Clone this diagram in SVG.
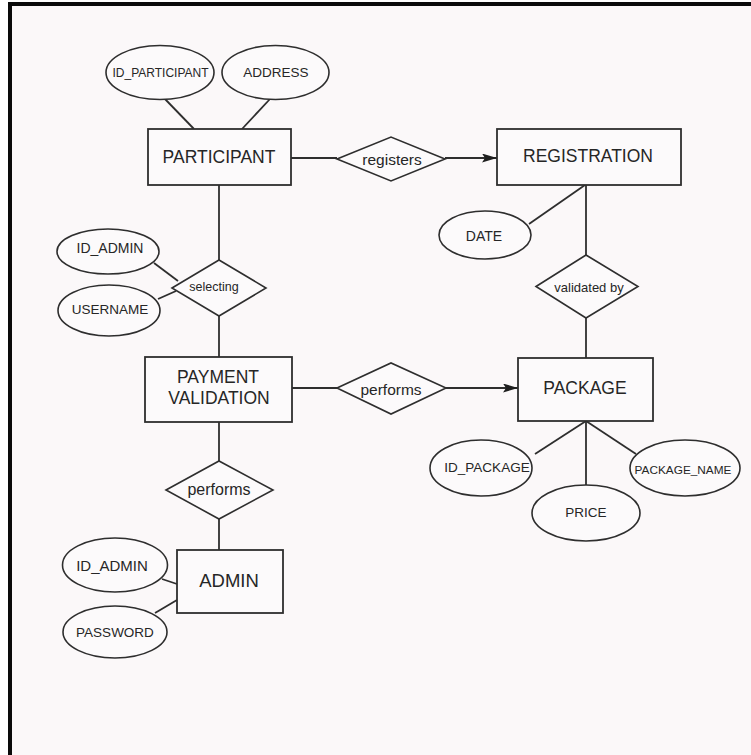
<svg xmlns="http://www.w3.org/2000/svg" width="751" height="755" viewBox="0 0 751 755">
<style>
  .ent { fill: #fcfafb; stroke: #2e2e2e; stroke-width: 1.8; }
  .rel { fill: #fcfafb; stroke: #2e2e2e; stroke-width: 1.6; }
  .att { fill: #fcfafb; stroke: #2e2e2e; stroke-width: 1.6; }
  .conn line { stroke: #2e2e2e; stroke-width: 1.8; }
  text { font-family: "Liberation Sans", Arial, sans-serif; fill: #262626; text-anchor: middle; dominant-baseline: central; }
  .te { font-size: 17.5px; }
  .tr { font-size: 15.5px; }
  .ta { font-size: 13.5px; }
</style>
<defs>
  <marker id="arr" markerUnits="userSpaceOnUse" markerWidth="16" markerHeight="10" refX="15" refY="4.5" orient="auto">
    <path d="M0,0 L15,4.5 L0,9 L3,4.5 z" fill="#1e1e1e"/>
  </marker>
</defs>
<rect x="0" y="0" width="751" height="755" fill="#ffffff"/>
<rect x="8" y="2" width="743" height="753" fill="#fbf8f9"/>
<rect x="8" y="2" width="743" height="4" fill="#0a0a0a"/>
<rect x="8" y="2" width="4" height="753" fill="#0a0a0a"/>

<g id="connectors" class="conn">
  <line x1="165" y1="99" x2="194" y2="129"/>
  <line x1="270" y1="99" x2="242" y2="129"/>
  <line x1="291" y1="158" x2="337" y2="158"/>
  <line x1="445" y1="158" x2="497" y2="158" marker-end="url(#arr)"/>
  <line x1="586" y1="185" x2="586" y2="255"/>
  <line x1="529" y1="224" x2="585" y2="185"/>
  <line x1="586" y1="318" x2="586" y2="358"/>
  <line x1="586" y1="421" x2="535" y2="454"/>
  <line x1="586" y1="421" x2="586" y2="485"/>
  <line x1="586" y1="421" x2="636" y2="454"/>
  <line x1="219" y1="185" x2="219" y2="260"/>
  <line x1="219" y1="316" x2="219" y2="357"/>
  <line x1="154" y1="263" x2="178" y2="281"/>
  <line x1="158" y1="299" x2="176" y2="291"/>
  <line x1="292" y1="388" x2="337" y2="388"/>
  <line x1="446" y1="388" x2="518" y2="388" marker-end="url(#arr)"/>
  <line x1="219" y1="422" x2="219" y2="461"/>
  <line x1="219" y1="519" x2="219" y2="550"/>
  <line x1="162" y1="579" x2="177" y2="584"/>
  <line x1="155" y1="613" x2="177" y2="600"/>
</g>

<g id="participant">
  <rect class="ent" x="148" y="129" width="143" height="56"/>
  <text class="te" x="219" y="157">PARTICIPANT</text>
</g>
<g id="registration">
  <rect class="ent" x="497" y="129" width="184" height="56"/>
  <text class="te" x="588" y="156">REGISTRATION</text>
</g>
<g id="package">
  <rect class="ent" x="518" y="358" width="135" height="63"/>
  <text class="te" x="585" y="388">PACKAGE</text>
</g>
<g id="payment_validation">
  <rect class="ent" x="145" y="357" width="147" height="65"/>
  <text class="te" x="218" y="377">PAYMENT</text>
  <text class="te" x="219" y="398">VALIDATION</text>
</g>
<g id="admin">
  <rect class="ent" x="177" y="550" width="106" height="63"/>
  <text class="te" x="229" y="580" style="font-size:18.5px">ADMIN</text>
</g>

<g id="registers">
  <polygon class="rel" points="337,159 391,137 445,159 391,181"/>
  <text class="tr" x="392" y="159">registers</text>
</g>
<g id="validated_by">
  <polygon class="rel" points="536,286.5 586,255 638,286.5 586,318"/>
  <text class="tr" x="589" y="287" style="font-size:13px">validated by</text>
</g>
<g id="selecting">
  <polygon class="rel" points="172,288 219,260 266,288 219,316"/>
  <text class="tr" x="214" y="287" style="font-size:12.5px">selecting</text>
</g>
<g id="performs_package">
  <polygon class="rel" points="337,388 391,363 446,388 391,414"/>
  <text class="tr" x="391" y="389">performs</text>
</g>
<g id="performs_admin">
  <polygon class="rel" points="166,490 219,461 273,490 219,519"/>
  <text class="tr" x="219" y="489" style="font-size:16px">performs</text>
</g>

<g id="id_participant">
  <ellipse class="att" cx="160" cy="72.5" rx="54" ry="27"/>
  <text class="ta" x="160.5" y="72.5" style="font-size:12px">ID_PARTICIPANT</text>
</g>
<g id="address">
  <ellipse class="att" cx="275.5" cy="72.5" rx="53.5" ry="27"/>
  <text class="ta" x="276" y="72.5">ADDRESS</text>
</g>
<g id="date">
  <ellipse class="att" cx="485" cy="235" rx="46" ry="24"/>
  <text class="ta" x="484" y="236" style="font-size:14px">DATE</text>
</g>
<g id="id_admin_1">
  <ellipse class="att" cx="108" cy="251.5" rx="51" ry="22.5"/>
  <text class="ta" x="110" y="248" style="font-size:14px">ID_ADMIN</text>
</g>
<g id="username">
  <ellipse class="att" cx="109" cy="310.5" rx="51" ry="25.5"/>
  <text class="ta" x="110" y="309">USERNAME</text>
</g>
<g id="id_package">
  <ellipse class="att" cx="481" cy="468" rx="51" ry="28"/>
  <text class="ta" x="487" y="467">ID_PACKAGE</text>
</g>
<g id="price">
  <ellipse class="att" cx="586" cy="513" rx="54" ry="28"/>
  <text class="ta" x="586" y="512">PRICE</text>
</g>
<g id="package_name">
  <ellipse class="att" cx="685" cy="468" rx="55" ry="28"/>
  <text class="ta" x="683" y="470" style="font-size:11.8px">PACKAGE_NAME</text>
</g>
<g id="id_admin_2">
  <ellipse class="att" cx="115" cy="565" rx="52.5" ry="27"/>
  <text class="ta" x="112" y="565" style="font-size:15px">ID_ADMIN</text>
</g>
<g id="password">
  <ellipse class="att" cx="115" cy="632" rx="52" ry="26"/>
  <text class="ta" x="115" y="632">PASSWORD</text>
</g>
</svg>
